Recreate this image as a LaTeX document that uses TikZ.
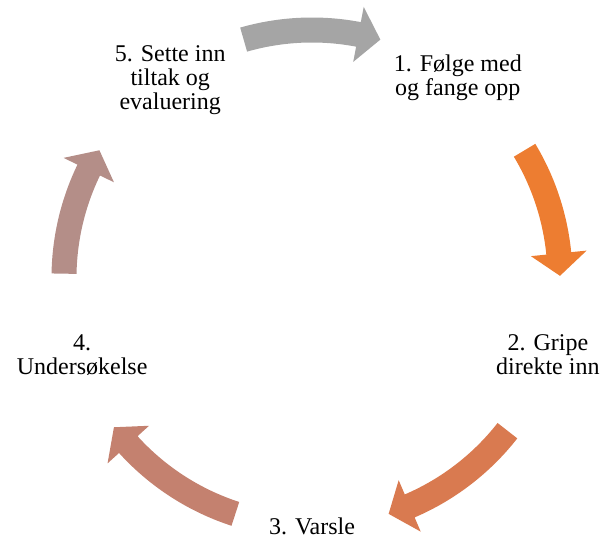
\documentclass[tikz,border=0pt]{standalone}
\usepackage{fontspec}
\setmainfont{Liberation Serif}
\usepackage{tikz}
\usetikzlibrary{positioning,calc}

\definecolor{stepgray}{HTML}{A5A5A5}
\definecolor{steporange}{HTML}{ED7D31}
\definecolor{stepcopper}{HTML}{D97A50}
\definecolor{stepclay}{HTML}{C4816F}
\definecolor{steprose}{HTML}{B48E88}

\begin{document}
\begin{tikzpicture}[
  x=1pt,y=1pt,
  steptext/.style={align=center,inner sep=0pt,
    font=\fontsize{24}{24}\selectfont}
  ]

  \useasboundingbox (-312,-260) rectangle (290,278);

  \def\R{248pt}   % middle of the ring
  \def\Ro{260.5pt}\def\Ri{235.5pt}
  \def\Rho{276pt}\def\Rhi{220pt}

  \node[steptext] (s1) at (54:\R)                 {1. Følge med\\og fange opp};
  \node[steptext] (s2) at (-18:\R)                {2. Gripe\\direkte inn};
  \node[steptext] (s3) at (-90:\R)                {3. Varsle};
  \node[steptext] (s4) at ($(198:\R)+(6pt,0)$)    {4.\\Undersøkelse};
  \node[steptext] (s5) at ($(126:\R)+(4pt,-3pt)$) {5. Sette inn\\tiltak og\\evaluering};

  % curved block arrows between the steps
  \foreach \col/\from/\to in {stepgray/106/74, steporange/31/0.5,
      stepcopper/-38/-72, stepclay/-108/-143, steprose/179/149}
    \fill[\col] (\from:\Ro) arc[start angle=\from, end angle=\to+5.2, radius=\Ro]
      -- ({\to+5.2}:\Rho) -- (\to:\R) -- ({\to+5.2}:\Rhi)
      -- ({\to+5.2}:\Ri) arc[start angle=\to+5.2, end angle=\from, radius=\Ri]
      -- cycle;
\end{tikzpicture}
\end{document}
